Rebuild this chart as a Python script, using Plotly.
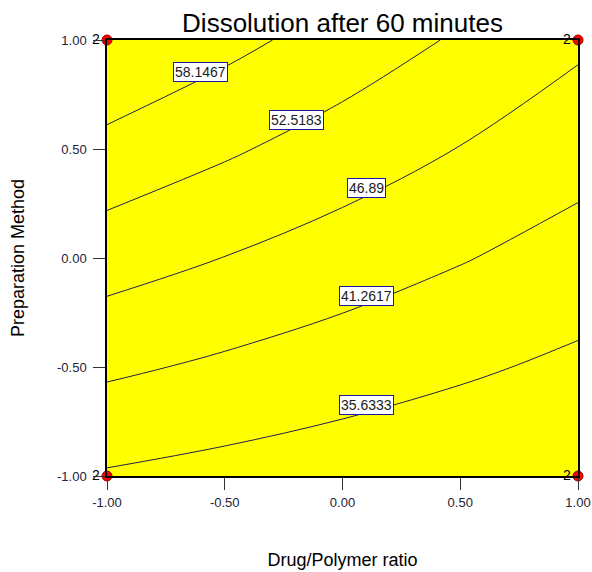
import plotly.graph_objects as go

# ---- data ----
drug_polymer_ratio = [-1.0, -0.5, 0.0, 0.5, 1.0]
preparation_method = [-1.0, -0.5, 0.0, 0.5, 1.0]
# dissolution after 60 min (rows: preparation method, cols: drug/polymer ratio)
dissolution = [
    [35.10, 33.85, 32.60, 31.35, 30.10],
    [42.25, 40.33, 38.40, 36.48, 34.55],
    [49.40, 46.80, 44.20, 41.60, 39.00],
    [56.55, 53.28, 50.00, 46.73, 43.45],
    [63.70, 59.75, 55.80, 51.85, 47.90],
]
contour_levels = [35.6333, 41.2617, 46.89, 52.5183, 58.1467]
design_x = [-1.0, 1.0, -1.0, 1.0]
design_y = [-1.0, -1.0, 1.0, 1.0]
replicates = ["2", "2", "2", "2"]
tick_vals = [-1.0, -0.5, 0.0, 0.5, 1.0]
tick_text = ["-1.00", "-0.50", "0.00", "0.50", "1.00"]

# label placement (positions on the plot)
label_pos = [(0.102, -0.674), (0.102, -0.174), (0.100, 0.319), (-0.197, 0.635), (-0.601, 0.851)]

FONT = "Arial, Liberation Sans, sans-serif"
TICKCOL = "#22223a"

fig = go.Figure()
step = contour_levels[1] - contour_levels[0]
fig.add_trace(go.Contour(
    x=drug_polymer_ratio, y=preparation_method, z=dissolution,
    contours=dict(coloring="none", start=contour_levels[0], end=contour_levels[-1] + step / 10,
                  size=step, showlabels=False),
    line=dict(color="#20204a", width=1, smoothing=1.0),
    showscale=False, hoverinfo="skip",
))
fig.add_trace(go.Scatter(
    x=design_x, y=design_y, mode="markers+text", text=replicates,
    textposition="middle left",
    textfont=dict(family=FONT, size=14, color="black"),
    marker=dict(color="#ff0000", size=10, line=dict(color="#990000", width=1)),
    cliponaxis=False, showlegend=False,
))

for lvl, (lx, ly) in zip(contour_levels, label_pos):
    fig.add_annotation(x=lx, y=ly, xref="x", yref="y", text=f"{lvl:g}",
                       showarrow=False, bgcolor="white", bordercolor="#1a1aa0",
                       borderwidth=1, borderpad=1,
                       font=dict(family=FONT, size=14, color="#1a1a1a"))

axis_common = dict(range=[-1, 1], tickvals=tick_vals, ticktext=tick_text,
                   ticks="outside", ticklen=12, tickcolor="#333333", tickwidth=1,
                   showline=True, linecolor="black", linewidth=1.5, mirror=True,
                   showgrid=False, zeroline=False, automargin=False,
                   tickfont=dict(family=FONT, size=13, color=TICKCOL))

fig.update_layout(
    width=592, height=572,
    margin=dict(l=107, r=14, t=40, b=96),
    paper_bgcolor="white", plot_bgcolor="#ffff00",
    title=dict(text="Dissolution after 60 minutes", x=0.5, xref="paper",
               y=1 - 23 / 572, yref="container", yanchor="middle", xanchor="center",
               automargin=False,
               font=dict(family=FONT, size=26, color="black")),
    xaxis=dict(**axis_common, ticklabelstandoff=2,
               title=dict(text="Drug/Polymer ratio", standoff=44,
                          font=dict(family=FONT, size=18, color="black"))),
    yaxis=dict(**axis_common, ticklabelstandoff=4,
               title=dict(text="Preparation Method", standoff=28,
                          font=dict(family=FONT, size=18, color="black"))),
    showlegend=False,
)

# remove the browser's default page margin so the 592x572 figure fills the window
fig.write_html("out.html", config={"displayModeBar": False},
               post_script="document.body.style.margin='0';")
